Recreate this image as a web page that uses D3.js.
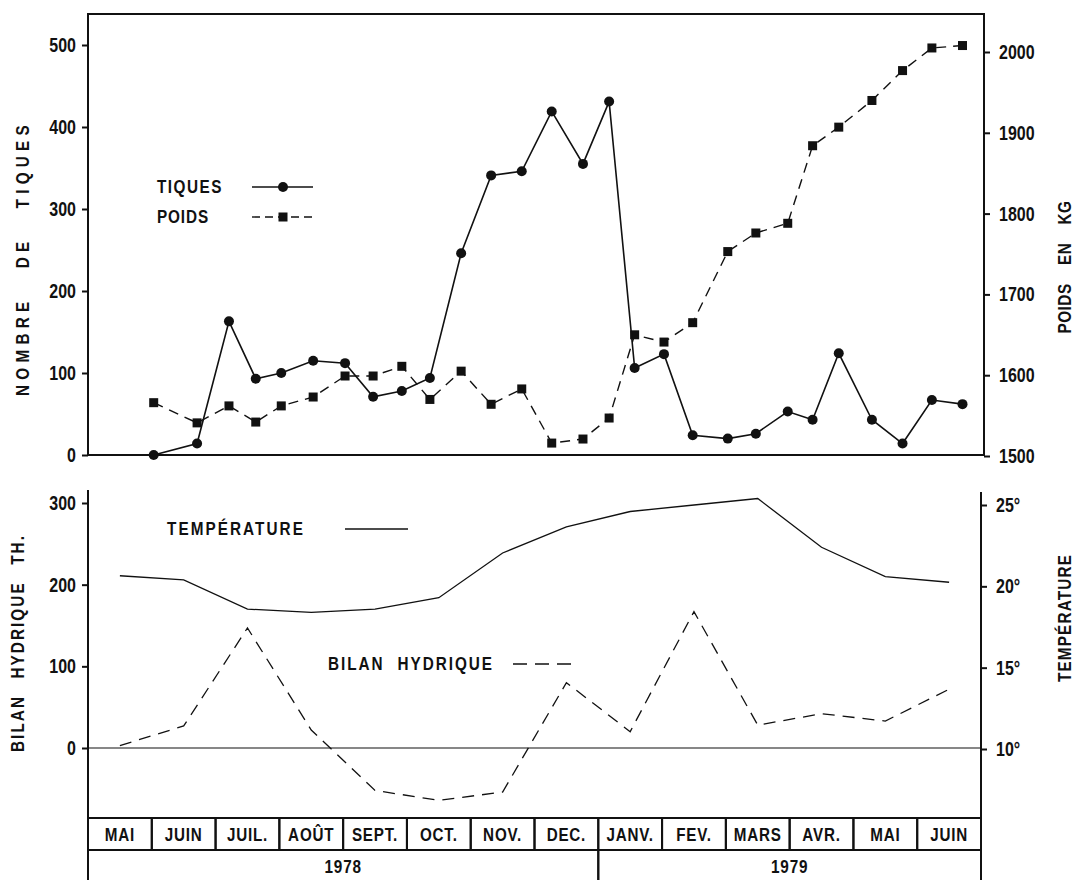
<!DOCTYPE html>
<html>
<head>
<meta charset="utf-8">
<script src="https://cdn.jsdelivr.net/npm/d3@7"></script>
<style>
  body { margin: 0; background: #fff; }
  svg text { font-family: "Liberation Sans", Arial, sans-serif; font-weight: bold; fill: #111; }
</style>
</head>
<body>
<script>
// Mois du graphique (mai 1978 -> juin 1979)
var moisLabels = ["MAI", "JUIN", "JUIL.", "AOÛT", "SEPT.", "OCT.", "NOV.", "DEC.", "JANV.", "FEV.", "MARS", "AVR.", "MAI", "JUIN"];
var anneeLabels = ["1978", "1979"];
var anneeNbMois = [8, 6];

// Relevés (position en mois depuis le 1er mai 1978)
var releves = [1.03, 1.71, 2.21, 2.63, 3.03, 3.53, 4.03, 4.47, 4.92, 5.36, 5.85, 6.32, 6.80, 7.27,
               7.76, 8.17, 8.57, 9.03, 9.48, 10.03, 10.47, 10.97, 11.36, 11.77, 12.29, 12.77, 13.23, 13.71];
var tiques = [0, 14, 163, 93, 100, 115, 112, 71, 78, 94, 246, 341, 346, 419,
              355, 431, 106, 123, 24, 20, 26, 53, 43, 124, 43, 14, 67, 62];
var poids = [1566, 1541, 1562, 1542, 1562, 1573, 1599, 1599, 1611, 1570, 1605, 1564, 1583, 1516,
             1521, 1547, 1650, 1641, 1665, 1753, 1776, 1788, 1884, 1907, 1940, 1977, 2005, 2008];

// Valeurs mensuelles
var temperature = [20.65, 20.4, 18.6, 18.4, 18.6, 19.3, 22.05, 23.65, 24.6, 25.0, 25.4, 22.4, 20.6, 20.25];
var bilan = [3, 27, 147, 22, -52, -64, -54, 80, 20, 167, 28, 42, 33, 72];

// Graduations
var tiquesTicks = [0, 100, 200, 300, 400, 500];
var poidsTicks = [1500, 1600, 1700, 1800, 1900, 2000];
var bilanTicks = [0, 100, 200, 300];
var tempTicks = [10, 15, 20, 25];

var width = 1078, height = 880;
var left = 88, right = 981;

var svg = d3.select("body")
  .append("svg")
  .attr("width", width)
  .attr("height", height);

// police étroite : on resserre les glyphes ; si "cible" est donnée, on espace les lettres pour l'atteindre
function condense(sel, k, cible) {
  sel.each(function() {
    var t = d3.select(this);
    var w = this.getComputedTextLength();
    if (cible) {
      var n = t.text().length;
      t.attr("letter-spacing", Math.max(0, (cible / k - w) / n));
      t.attr("textLength", cible);
    } else {
      t.attr("textLength", w * k);
    }
    t.attr("lengthAdjust", "spacingAndGlyphs");
  });
}

// titres et légendes
function titre(x, y, rot, txt, len, size, anchor, ws) {
  var t = svg.append("text")
    .attr("transform", "translate(" + x + "," + y + ")" + (rot ? " rotate(-90)" : ""))
    .attr("text-anchor", anchor || "middle")
    .attr("font-size", size)
    .attr("word-spacing", ws || 0)
    .text(txt);
  condense(t, 0.85, len);
  return t;
}

// Echelle horizontale commune (en mois)
var x = d3.scaleLinear().domain([0, moisLabels.length]).range([left, right]);

// ---------- Graphique du haut : tiques et poids ----------
var topY = 14;
var yT = d3.scaleLinear().domain([0, 500]).range([455, 45]);
var yP = d3.scaleLinear().domain([1500, 2000]).range([456, 52]);

// cadre
svg.append("path")
  .attr("d", "M" + left + "," + yT(0) + "V" + topY + "H" + (right + 3) + "V" + yT(0) + "Z")
  .attr("fill", "none")
  .attr("stroke", "#111")
  .attr("stroke-width", 2);

svg.append("g")
  .attr("transform", "translate(" + left + ",0)")
  .call(d3.axisLeft(yT).tickValues(tiquesTicks).tickSize(6).tickPadding(6))
  .call(function(g) { g.select(".domain").remove(); });

svg.append("g")
  .attr("transform", "translate(" + (right + 3) + ",0)")
  .call(d3.axisRight(yP).tickValues(poidsTicks).tickSize(6).tickPadding(9).tickFormat(d3.format("d")))
  .call(function(g) { g.select(".domain").remove(); });

// courbe des poids
svg.append("path")
  .datum(poids)
  .attr("fill", "none")
  .attr("stroke", "#111")
  .attr("stroke-width", 1.4)
  .attr("stroke-dasharray", "10,7")
  .attr("d", d3.line()
    .x(function(d, i) { return x(releves[i]) })
    .y(function(d) { return yP(d) }));

svg.append("g")
  .selectAll("rect")
  .data(poids)
  .enter()
  .append("rect")
  .attr("x", function(d, i) { return x(releves[i]) - 4.5 })
  .attr("y", function(d) { return yP(d) - 4.5 })
  .attr("width", 9)
  .attr("height", 9)
  .attr("fill", "#111");

// courbe des tiques
svg.append("path")
  .datum(tiques)
  .attr("fill", "none")
  .attr("stroke", "#111")
  .attr("stroke-width", 1.6)
  .attr("d", d3.line()
    .x(function(d, i) { return x(releves[i]) })
    .y(function(d) { return yT(d) }));

svg.append("g")
  .selectAll("circle")
  .data(tiques)
  .enter()
  .append("circle")
  .attr("cx", function(d, i) { return x(releves[i]) })
  .attr("cy", function(d) { return yT(d) })
  .attr("r", 5)
  .attr("fill", "#111");

// légende du haut
titre(157, 193, false, "TIQUES", 66, 18, "start");
titre(157, 223, false, "POIDS", 52, 18, "start");
svg.append("line").attr("x1", 252).attr("x2", 313).attr("y1", 187).attr("y2", 187)
  .attr("stroke", "#111").attr("stroke-width", 1.4);
svg.append("circle").attr("cx", 283).attr("cy", 187).attr("r", 5).attr("fill", "#111");
svg.append("line").attr("x1", 252).attr("x2", 313).attr("y1", 217).attr("y2", 217)
  .attr("stroke", "#111").attr("stroke-width", 1.4).attr("stroke-dasharray", "8,5");
svg.append("rect").attr("x", 278.5).attr("y", 212.5).attr("width", 9).attr("height", 9).attr("fill", "#111");

// titres des axes du haut
titre(29, 258, true, "NOMBRE DE TIQUES", 276, 18, "middle", 22);
titre(1071, 267, true, "POIDS EN KG", 133, 18, "middle", 16);

// ---------- Graphique du bas : température et bilan hydrique ----------
var yB = d3.scaleLinear().domain([0, 300]).range([748, 503]);
var yC = d3.scaleLinear().domain([10, 25]).range([749, 505]);
var boxTop = 818, boxMid = 850, boxBottom = 886;

svg.append("line")
  .attr("x1", left).attr("x2", left).attr("y1", 490).attr("y2", boxBottom)
  .attr("stroke", "#111").attr("stroke-width", 2);
svg.append("line")
  .attr("x1", right).attr("x2", right).attr("y1", 492).attr("y2", boxBottom)
  .attr("stroke", "#111").attr("stroke-width", 2);

svg.append("g")
  .attr("transform", "translate(" + left + ",0)")
  .call(d3.axisLeft(yB).tickValues(bilanTicks).tickSize(6).tickPadding(6))
  .call(function(g) { g.select(".domain").remove(); });

svg.append("g")
  .attr("transform", "translate(" + right + ",0)")
  .call(d3.axisRight(yC).tickValues(tempTicks).tickSize(6).tickPadding(9).tickFormat(function(d) { return d + "°"; }))
  .call(function(g) { g.select(".domain").remove(); });

// ligne du zéro
svg.append("line")
  .attr("x1", left).attr("x2", right).attr("y1", yB(0)).attr("y2", yB(0))
  .attr("stroke", "#111").attr("stroke-width", 1.2);

// température
svg.append("path")
  .datum(temperature)
  .attr("fill", "none")
  .attr("stroke", "#111")
  .attr("stroke-width", 1.3)
  .attr("d", d3.line()
    .x(function(d, i) { return x(i + 0.5) })
    .y(function(d) { return yC(d) }));

// bilan hydrique
svg.append("path")
  .datum(bilan)
  .attr("fill", "none")
  .attr("stroke", "#111")
  .attr("stroke-width", 1.3)
  .attr("stroke-dasharray", "12,8")
  .attr("d", d3.line()
    .x(function(d, i) { return x(i + 0.5) })
    .y(function(d) { return yB(d) }));

// légende du bas
titre(167, 535, false, "TEMPÉRATURE", 138, 18, "start");
svg.append("line").attr("x1", 345).attr("x2", 408).attr("y1", 529).attr("y2", 529)
  .attr("stroke", "#111").attr("stroke-width", 1.3);
titre(328, 670, false, "BILAN HYDRIQUE", 166, 18, "start", 8);
svg.append("line").attr("x1", 513).attr("x2", 573).attr("y1", 664).attr("y2", 664)
  .attr("stroke", "#111").attr("stroke-width", 1.3).attr("stroke-dasharray", "14,8");

titre(24, 643, true, "BILAN HYDRIQUE TH.", 218, 18, "middle", 12);
titre(1071, 618, true, "TEMPÉRATURE", 128, 18);

// cases des mois
var mois = svg.append("g")
  .selectAll("g")
  .data(moisLabels)
  .enter()
  .append("g");

mois.append("rect")
  .attr("x", function(d, i) { return x(i) })
  .attr("y", boxTop)
  .attr("width", function(d, i) { return x(i + 1) - x(i) })
  .attr("height", boxMid - boxTop)
  .attr("fill", "none")
  .attr("stroke", "#111")
  .attr("stroke-width", 2);

mois.append("text")
  .attr("class", "mois")
  .attr("x", function(d, i) { return x(i + 0.5) })
  .attr("y", boxMid - 9)
  .attr("text-anchor", "middle")
  .attr("font-size", 19)
  .attr("letter-spacing", 1)
  .text(function(d) { return d });

// cases des années
var debuts = [0];
anneeNbMois.forEach(function(n, i) { debuts.push(debuts[i] + n) });

svg.append("g")
  .selectAll("rect")
  .data(anneeLabels)
  .enter()
  .append("rect")
  .attr("x", function(d, i) { return x(debuts[i]) })
  .attr("y", boxMid)
  .attr("width", function(d, i) { return x(debuts[i + 1]) - x(debuts[i]) })
  .attr("height", boxBottom - boxMid)
  .attr("fill", "none")
  .attr("stroke", "#111")
  .attr("stroke-width", 2);

svg.append("g")
  .selectAll("text")
  .data(anneeLabels)
  .enter()
  .append("text")
  .attr("class", "annee")
  .attr("x", function(d, i) { return x((debuts[i] + debuts[i + 1]) / 2) })
  .attr("y", 873)
  .attr("text-anchor", "middle")
  .attr("font-size", 18)
  .attr("letter-spacing", 1)
  .text(function(d) { return d });

// style des axes
svg.selectAll(".tick text").attr("font-size", 20).attr("fill", "#111");
svg.selectAll(".tick line").attr("stroke", "#111").attr("stroke-width", 2);

condense(svg.selectAll(".tick text"), 0.8);
condense(svg.selectAll("text.mois"), 0.8);
condense(svg.selectAll("text.annee"), 0.85);
</script>
</body>
</html>
